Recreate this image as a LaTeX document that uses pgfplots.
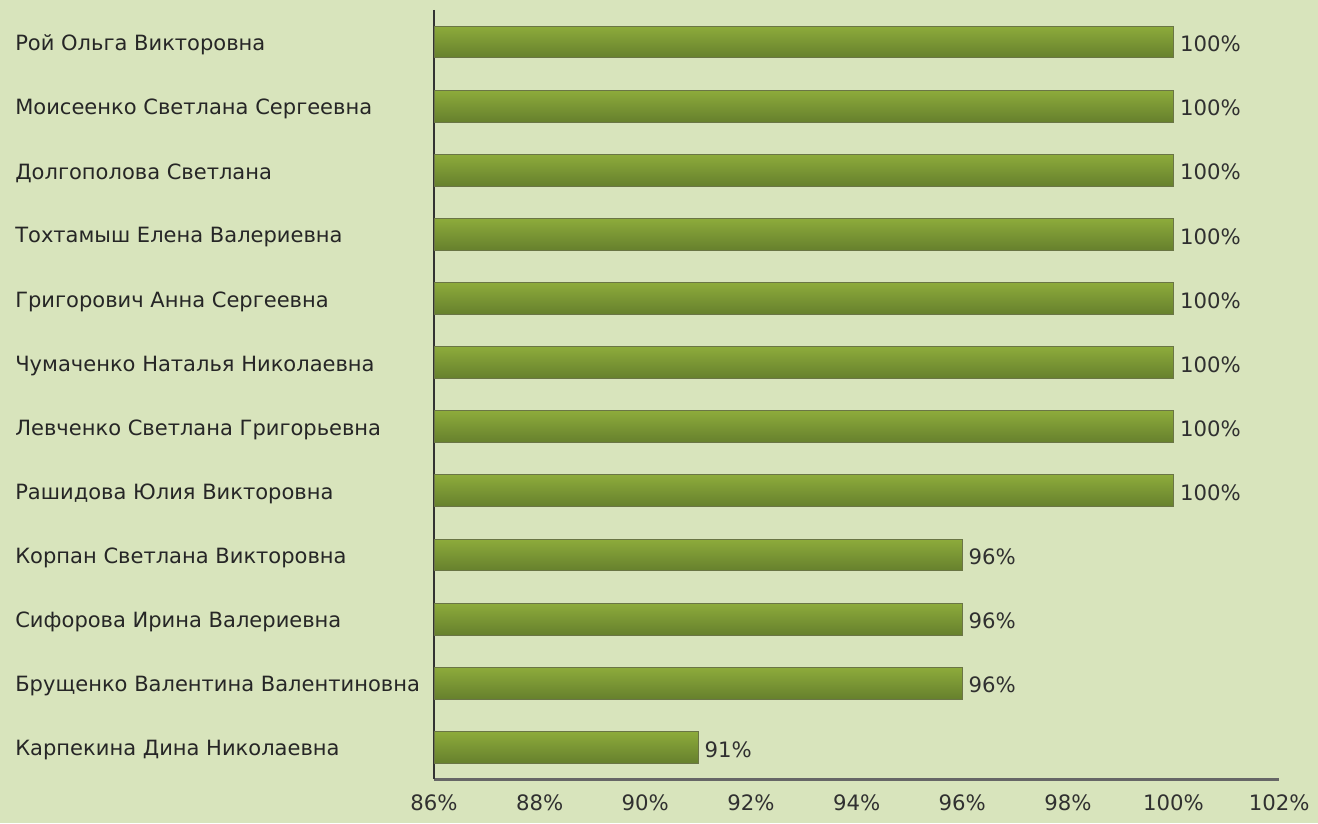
\documentclass[border=0pt]{standalone}
\usepackage{pgfplots}
\pgfplotsset{compat=1.18}
\usepackage{fontspec}
\setmainfont{DejaVu Sans}
\definecolor{bg}{HTML}{D8E4BC}
\definecolor{bartop}{HTML}{8DAB3B}
\definecolor{barbot}{HTML}{66802D}
\definecolor{barborder}{HTML}{6A7545}
\definecolor{txt}{HTML}{262626}
\definecolor{valtxt}{HTML}{303030}
\tikzset{barsty/.style={draw=barborder, line width=0.5bp, top color=bartop, bottom color=barbot}}
\begin{document}
\begin{tikzpicture}
\fill[bg] (-218bp,-22bp) rectangle (444bp,391.5bp);
\begin{axis}[
  at={(0,0)}, anchor=south west,
  scale only axis, width=424.5bp, height=386.5bp,
  xbar, bar width=16bp, bar shift=0pt,
  xmin=86, xmax=102, ymin=-0.5, ymax=11.5, y dir=reverse,
  axis x line=bottom, axis y line=left,
  x axis line style={-, draw=black!60, line width=1.4bp},
  y axis line style={-, draw=black!80, line width=1bp},
  major tick length=0pt,
  xtick={86,88,...,102},
  xticklabels={86\%,88\%,90\%,92\%,94\%,96\%,98\%,100\%,102\%},
  xticklabel style={font=\fontsize{10.7}{12}\selectfont, text=valtxt, yshift=-4bp},
  ytick={0,...,11},
  yticklabels={Рой Ольга Викторовна,Моисеенко Светлана Сергеевна,Долгополова Светлана,Тохтамыш Елена Валериевна,Григорович Анна Сергеевна,Чумаченко Наталья Николаевна,Левченко Светлана Григорьевна,Рашидова Юлия Викторовна,Корпан Светлана Викторовна,Сифорова Ирина Валериевна,Брущенко Валентина Валентиновна,Карпекина Дина Николаевна},
  yticklabel style={font=\fontsize{10.6}{12}\selectfont, text=txt, anchor=west, xshift=-210.5bp, yshift=-1.5bp, inner sep=0pt},
  /pgf/number format/assume math mode=true,
  nodes near coords={\pgfmathprintnumber{\pgfplotspointmeta}\%},
  nodes near coords style={font=\fontsize{10.7}{12}\selectfont, text=valtxt, anchor=west, inner sep=3bp, yshift=-1bp},
]
\addplot[barsty] coordinates {(100,0)};
\addplot[barsty] coordinates {(100,1)};
\addplot[barsty] coordinates {(100,2)};
\addplot[barsty] coordinates {(100,3)};
\addplot[barsty] coordinates {(100,4)};
\addplot[barsty] coordinates {(100,5)};
\addplot[barsty] coordinates {(100,6)};
\addplot[barsty] coordinates {(100,7)};
\addplot[barsty] coordinates {(96,8)};
\addplot[barsty] coordinates {(96,9)};
\addplot[barsty] coordinates {(96,10)};
\addplot[barsty] coordinates {(91,11)};
\end{axis}
\end{tikzpicture}
\end{document}
